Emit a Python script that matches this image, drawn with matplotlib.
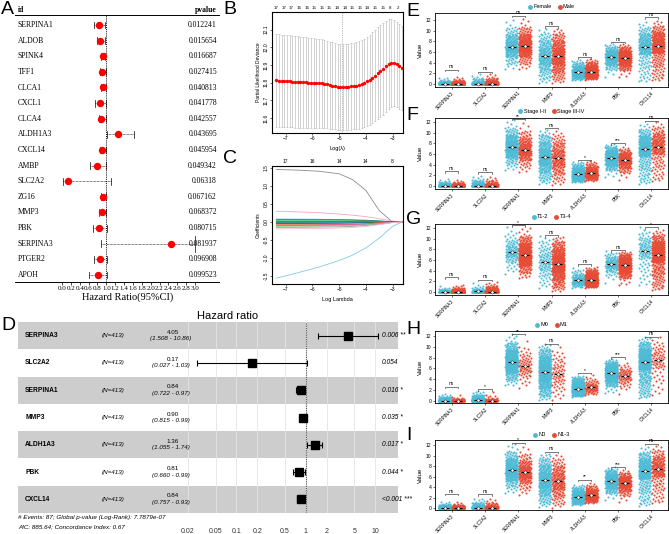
import numpy as np
import matplotlib
matplotlib.use("Agg")
import matplotlib.pyplot as plt
from matplotlib.lines import Line2D

plt.rcParams['font.family'] = ['Liberation Sans', 'DejaVu Sans']

# ---------------- data ----------------
# A: univariate cox forest
a_genes = ['SERPINA1', 'ALDOB', 'SPINK4', 'TFF1', 'CLCA1', 'CXCL1', 'CLCA4', 'ALDH1A3', 'CXCL14',
           'AMBP', 'SLC2A2', 'ZG16', 'MMP3', 'PBK', 'SERPINA3', 'PTGER2', 'APOH']
a_hr = [0.84, 0.86, 0.92, 0.90, 0.93, 0.86, 0.89, 1.26, 0.91, 0.80, 0.14, 0.93, 0.91, 0.84, 2.46, 0.86, 0.81]
a_lo = [0.72, 0.78, 0.87, 0.85, 0.88, 0.75, 0.83, 1.01, 0.85, 0.64, 0.02, 0.87, 0.84, 0.71, 0.88, 0.73, 0.62]
a_hi = [0.97, 0.98, 0.98, 0.99, 0.995, 0.995, 0.995, 1.62, 0.997, 0.995, 1.10, 1.0, 1.003, 1.01, 2.99, 1.01, 1.01]
a_p = ['0.012241', '0.015654', '0.016687', '0.027415', '0.040813', '0.041778', '0.042557', '0.043695',
       '0.045954', '0.049342', '0.06318', '0.067162', '0.068372', '0.080715', '0.081937', '0.096908', '0.099523']

# B: cross-validation curve
b_loglam = np.linspace(-7.35, -2.65, 48)
b_mean = [11.812, 11.811, 11.810, 11.809, 11.808, 11.807, 11.806, 11.805, 11.804, 11.803, 11.802, 11.801,
          11.800, 11.799, 11.798, 11.797, 11.796, 11.795, 11.793, 11.790, 11.786, 11.782, 11.779, 11.777,
          11.776, 11.776, 11.776, 11.777, 11.778, 11.780, 11.783, 11.787, 11.792, 11.799, 11.807, 11.817,
          11.828, 11.840, 11.853, 11.866, 11.879, 11.892, 11.903, 11.910, 11.910, 11.903, 11.893, 11.882]
b_se = [0.262, 0.262, 0.261, 0.261, 0.260, 0.260, 0.259, 0.259, 0.258, 0.257, 0.256, 0.255,
        0.254, 0.253, 0.252, 0.251, 0.250, 0.249, 0.248, 0.247, 0.246, 0.245, 0.244, 0.243,
        0.242, 0.242, 0.242, 0.243, 0.244, 0.245, 0.246, 0.247, 0.248, 0.250, 0.252, 0.254,
        0.256, 0.258, 0.259, 0.260, 0.260, 0.258, 0.255, 0.250, 0.245, 0.242, 0.240, 0.238]
b_top = ['17', '17', '17', '16', '16', '15', '15', '15', '14', '14', '15', '15', '14', '15', '15', '8', '2']
b_min = -4.9

# C: coefficient paths
c_loglam = [-7.35, -6.5, -5.75, -5.0, -4.5, -4.0, -3.5, -3.0, -2.65]
c_paths = [
    [1.46, 1.44, 1.41, 1.34, 1.18, 0.88, 0.32, 0.0, 0.0],
    [-1.56, -1.40, -1.25, -1.07, -0.92, -0.72, -0.45, -0.12, 0.0],
    [0.30, 0.28, 0.26, 0.22, 0.19, 0.15, 0.09, 0.03, 0.0],
    [0.08, 0.078, 0.075, 0.07, 0.064, 0.052, 0.032, 0.008, 0],
    [0.06, 0.059, 0.057, 0.053, 0.048, 0.039, 0.024, 0.006, 0],
    [0.04, 0.04, 0.038, 0.035, 0.032, 0.026, 0.016, 0.004, 0],
    [0.025, 0.025, 0.024, 0.022, 0.02, 0.016, 0.01, 0.002, 0],
    [0.01, 0.01, 0.01, 0.009, 0.008, 0.006, 0.004, 0.001, 0],
    [-0.01, -0.01, -0.01, -0.009, -0.008, -0.006, -0.004, -0.001, 0],
    [-0.03, -0.03, -0.028, -0.026, -0.024, -0.019, -0.012, -0.003, 0],
    [-0.045, -0.044, -0.042, -0.039, -0.035, -0.029, -0.018, -0.004, 0],
    [-0.06, -0.059, -0.057, -0.053, -0.048, -0.039, -0.024, -0.006, 0],
    [-0.08, -0.078, -0.075, -0.07, -0.064, -0.052, -0.032, -0.008, 0],
    [-0.10, -0.098, -0.094, -0.088, -0.08, -0.065, -0.04, -0.01, 0],
    [-0.12, -0.118, -0.113, -0.105, -0.096, -0.078, -0.048, -0.012, 0],
    [-0.15, -0.147, -0.141, -0.132, -0.12, -0.098, -0.06, -0.015, 0],
    [-0.19, -0.186, -0.179, -0.167, -0.152, -0.124, -0.076, -0.019, 0],
]
c_colors = ['#8c8c8c', '#86c8ee', '#f2a6c4', '#28b4b4', '#2f4f4f', '#61d04f', '#28e2e5', '#cd0bbc',
            '#1f7a3a', '#2297e6', '#222222', '#f5c710', '#df536b', '#d34fd0', '#7fd67f', '#9e9e9e', '#f7b6d2']
c_top = ['17', '16', '14', '14', '8']

# D: multivariate cox forest
d_genes = ['SERPINA3', 'SLC2A2', 'SERPINA1', 'MMP3', 'ALDH1A3', 'PBK', 'CXCL14']
d_hr = [4.05, 0.17, 0.84, 0.90, 1.36, 0.81, 0.84]
d_lo = [1.508, 0.027, 0.722, 0.815, 1.055, 0.660, 0.757]
d_hi = [10.86, 1.03, 0.97, 0.99, 1.74, 0.99, 0.93]
d_p = ['0.006 **', '0.054', '0.016 *', '0.035 *', '0.017 *', '0.044 *', '<0.001 ***']
d_ticks = [0.02, 0.05, 0.1, 0.2, 0.5, 1, 2, 5, 10]

# E-I: expression by clinical group (quantiles read from the clouds)
genes = ['SERPINA3', 'SLC2A2', 'SERPINA1', 'MMP3', 'ALDH1A3', 'PBK', 'CXCL14']
probs = [0, 0.02, 0.10, 0.25, 0.50, 0.75, 0.90, 0.98, 1.0]
quant = {
    'SERPINA3': [0, 0, 0.01, 0.03, 0.08, 0.18, 0.35, 0.7, 1.3],
    'SLC2A2': [0, 0, 0.01, 0.03, 0.08, 0.22, 0.5, 1.1, 1.9],
    'SERPINA1': [2.6, 3.6, 5.0, 6.0, 7.0, 8.2, 9.3, 10.6, 12.2],
    'MMP3': [0.1, 0.8, 2.2, 3.7, 5.2, 6.8, 8.2, 9.5, 10.4],
    'ALDH1A3': [0.7, 0.9, 1.3, 1.7, 2.2, 2.8, 3.4, 4.1, 4.6],
    'PBK': [1.2, 2.6, 3.5, 4.3, 5.0, 5.8, 6.4, 7.1, 7.6],
    'CXCL14': [0.4, 1.0, 3.0, 5.6, 7.0, 8.4, 9.5, 10.7, 11.7],
}
group_names = [['Female', 'Male'], ['Stage I-II', 'Stage III-IV'], ['T1-2', 'T3-4'], ['M0', 'M1'], ['N0', 'N1-3']]
group_n = [[180, 233], [240, 165], [95, 318], [340, 70], [245, 165]]
medians = [
    [[0.08, 0.08], [0.08, 0.08], [7.0, 7.1], [5.2, 5.2], [2.2, 2.3], [5.0, 4.9], [7.0, 7.2]],
    [[0.08, 0.08], [0.08, 0.08], [7.3, 6.8], [5.4, 5.2], [2.2, 2.4], [5.3, 4.8], [7.0, 7.4]],
    [[0.08, 0.08], [0.10, 0.08], [7.5, 6.9], [5.6, 5.2], [2.2, 2.3], [5.2, 5.0], [7.7, 7.0]],
    [[0.08, 0.08], [0.10, 0.05], [7.2, 6.4], [5.3, 5.0], [2.3, 2.5], [5.1, 4.6], [7.2, 7.5]],
    [[0.08, 0.08], [0.08, 0.08], [7.2, 6.8], [5.3, 5.1], [2.1, 2.4], [5.2, 4.7], [7.0, 7.4]],
]
bracket_h = [
    [2.7, 2.3, 12.8, 10.8, 5.0, 7.9, 12.5],
    [2.75, 2.55, 12.6, 10.9, 4.9, 8.0, 12.25],
    [2.75, 2.3, 12.5, 10.6, 5.25, 7.8, 12.1],
    [2.65, 2.15, 12.4, 10.6, 5.2, 8.1, 11.9],
    [2.7, 2.6, 12.5, 10.8, 5.4, 7.85, 12.3],
]
sig = [
    ['ns', 'ns', 'ns', 'ns', 'ns', 'ns', 'ns'],
    ['ns', 'ns', '**', 'ns', '*', '***', 'ns'],
    ['ns', 'ns', '*', 'ns', 'ns', 'ns', '*'],
    ['ns', '*', '**', 'ns', '*', '***', 'ns'],
    ['ns', 'ns', '*', 'ns', '**', '***', 'ns'],
]

# ---------------- figure ----------------
W, H = 669, 534
fig = plt.figure(figsize=(W / 100, H / 100), dpi=100)


def rect(x0, y0, x1, y1):
    return [x0 / W, 1 - y1 / H, (x1 - x0) / W, (y1 - y0) / H]


def txt(x, y, s, **kw):
    kw.setdefault('va', 'center')
    fig.text(x / W, 1 - y / H, s, **kw)


def fline(x0, x1, y, **kw):
    fig.add_artist(Line2D([x0 / W, x1 / W], [1 - y / H, 1 - y / H], **kw))


serif = 'Liberation Serif'

# ---- A ----
axA = fig.add_axes(rect(62, 15, 195, 282))
axA.set_xlim(0, 3)
axA.set_ylim(16.45, -0.64)
for s in axA.spines.values():
    s.set_visible(False)
axA.set_yticks([])
xt = np.round(np.arange(0, 3.01, 0.2), 1)
axA.set_xticks(xt)
axA.set_xticklabels(['%.1f' % v for v in xt], family=serif, fontsize=5)
axA.tick_params(axis='x', length=2, width=0.5, pad=1)
axA.axvline(1, color='k', ls=(0, (1, 1.2)), lw=0.7)
for i in range(len(a_genes)):
    axA.plot([a_lo[i], a_hi[i]], [i, i], color='k', ls=(0, (1, 1)), lw=0.5, clip_on=False)
    axA.plot([a_lo[i]] * 2, [i - 0.22, i + 0.22], color='k', lw=0.5, clip_on=False)
    if a_hi[i] >= 2.99:
        axA.plot([a_hi[i]] * 2, [i - 0.5, i + 0.5], color='red', lw=0.7, clip_on=False)
    else:
        axA.plot([a_hi[i]] * 2, [i - 0.22, i + 0.22], color='k', lw=0.5, clip_on=False)
    axA.plot(a_hr[i], i, 'o', color='red', ms=4.3, clip_on=False, zorder=3)
    yy = 25 + 15.625 * i
    txt(18, yy, a_genes[i], family=serif, fontsize=5.5)
    txt(217, yy, a_p[i], family=serif, fontsize=5.5, ha='right')
txt(18, 10, 'id', family=serif, fontsize=5.5, fontweight='bold')
txt(217, 10, 'pvalue', family=serif, fontsize=5.5, fontweight='bold', ha='right')
fline(15, 219, 15, color='k', lw=0.7)
fline(15, 219, 282, color='k', lw=0.7)
txt(128, 297, 'Hazard Ratio(95%CI)', family=serif, fontsize=7.5, ha='center')

# ---- B ----
xl = (-7.513, -2.607)
axB = fig.add_axes(rect(272, 12, 403, 133))
axB.errorbar(b_loglam, b_mean, yerr=b_se, fmt='o', color='red', ms=1.4, ecolor='#b0b0b0',
             elinewidth=0.4, capsize=0.7, capthick=0.4)
axB.axvline(b_min, color='#777777', ls=':', lw=0.5)
axB.set_xlim(*xl)
axB.set_ylim(11.515, 12.199)
axB.set_xticks([-7, -6, -5, -4, -3])
axB.set_yticks([11.6, 11.7, 11.8, 11.9, 12.0, 12.1])
axB.set_yticklabels(['11.6', '11.7', '11.8', '11.9', '12.0', '12.1'], rotation=90, va='center')
axB.tick_params(labelsize=3.5, length=1.5, width=0.4, pad=1)
axB.set_xlabel('Log(λ)', fontsize=4, labelpad=3)
axB.set_ylabel('Partial Likelihood Deviance', fontsize=3.5, labelpad=2)
for s in axB.spines.values():
    s.set_linewidth(0.5)
axB2 = axB.twiny()
axB2.set_xlim(*xl)
axB2.set_xticks(np.linspace(-7.35, -2.8, len(b_top)))
axB2.set_xticklabels(b_top)
axB2.tick_params(labelsize=3.2, length=0, pad=1.5)

# ---- C ----
axC = fig.add_axes(rect(272, 166, 403, 284))
for path, col in zip(c_paths, c_colors):
    axC.plot(c_loglam, path, color=col, lw=0.6)
axC.set_xlim(*xl)
axC.set_ylim(-1.722, 1.556)
axC.set_xticks([-7, -6, -5, -4, -3])
axC.set_yticks([-1.5, -1.0, -0.5, 0.0, 0.5, 1.0, 1.5])
axC.set_yticklabels(['-1.5', '-1.0', '-0.5', '0.0', '0.5', '1.0', '1.5'], rotation=90, va='center')
axC.tick_params(labelsize=3.5, length=1.5, width=0.4, pad=1)
axC.set_xlabel('Log Lambda', fontsize=4, labelpad=3)
axC.set_ylabel('Coefficients', fontsize=3.5, labelpad=2)
for s in axC.spines.values():
    s.set_linewidth(0.5)
axC2 = axC.twiny()
axC2.set_xlim(*xl)
axC2.set_xticks([-7, -6, -5, -4, -3])
axC2.set_xticklabels(c_top)
axC2.tick_params(labelsize=3.5, length=0, pad=1.5)

# ---- D ----
axD = fig.add_axes(rect(18, 322, 398, 513))
axD.set_xscale('log')
axD.set_xlim(10 ** -4.152, 10 ** 1.331)
axD.set_ylim(6.5, -0.5)
for i in range(len(d_genes)):
    if i % 2 == 0:
        axD.axhspan(i - 0.5, i + 0.5, color='#cdcdcd', lw=0, zorder=0)
for t in d_ticks:
    axD.axvline(t, color='#e4e4e4', lw=0.6, zorder=1)
axD.axvline(1, color='#555555', ls=(0, (1, 1)), lw=0.8, zorder=2)
for i in range(len(d_genes)):
    axD.errorbar(d_hr[i], i, xerr=[[d_hr[i] - d_lo[i]], [d_hi[i] - d_hr[i]]], fmt='s', color='black',
                 ms=5.8, capsize=2, elinewidth=0.8, capthick=0.8, zorder=3)
    yc = 335.6 + 27.3 * i
    txt(25, yc, d_genes[i], fontsize=4.8, fontweight='bold')
    txt(113, yc, '(N=413)', fontsize=4.5, style='italic', ha='center')
    txt(173, yc - 3.5, '%.2f' % d_hr[i], fontsize=4.5, ha='center')
    txt(171, yc + 3, '(%.3f - %.2f)' % (d_lo[i], d_hi[i]), fontsize=4.5, style='italic', ha='center')
    txt(382, yc, d_p[i], fontsize=4.8, style='italic')
axD.set_yticks([])
axD.set_xticks(d_ticks)
axD.set_xticklabels([str(t) for t in d_ticks])
axD.xaxis.set_minor_locator(matplotlib.ticker.NullLocator())
axD.tick_params(axis='x', length=0, labelsize=5, labelcolor='#333333', pad=11)
for s in axD.spines.values():
    s.set_visible(False)
txt(228, 316, 'Hazard ratio', fontsize=8, ha='center')
txt(18, 518, '# Events: 87; Global p-value (Log-Rank): 7.7879e-07', fontsize=4.5, style='italic')
txt(18, 526.5, 'AIC: 885.64; Concordance Index: 0.67', fontsize=4.5, style='italic')

# ---- E-I ----
blue, red = '#4DBBD5', '#E64B35'
box_rects = [(435, 13, 668, 87), (435, 118, 668, 189), (435, 224, 668, 295), (435, 331, 668, 403),
             (435, 440, 668, 510)]
box_ylims = [(-0.56, 13.3), (-0.56, 12.75), (-0.56, 12.75), (-0.37, 12.92), (-0.37, 13.0)]
legend_y = [7, 111, 217, 325, 435]
phi = (np.sqrt(5) - 1) / 2

for p in range(5):
    ax = fig.add_axes(rect(*box_rects[p]))
    for k, g in enumerate(genes):
        base = np.array(quant[g])
        for j, col in enumerate([blue, red]):
            n = group_n[p][j]
            med = medians[p][k][j]
            q = np.clip(base + (med - base[4]), 0, None)
            vals = np.interp((np.arange(n) + 0.5) / n, probs, q)
            xc = k + (-0.2 if j == 0 else 0.2)
            xs = xc + ((np.arange(n) * phi) % 1 - 0.5) * 0.37
            ax.scatter(xs, vals, s=2.2, color=col, linewidths=0, zorder=2)
            ax.hlines(med, xc - 0.12, xc + 0.12, color='black', lw=0.8, zorder=3)
            ax.plot(xc, med, 'o', ms=2.2, mfc='white', mec='black', mew=0.3, zorder=4)
        h = bracket_h[p][k]
        ax.plot([k - 0.2, k - 0.2, k + 0.2, k + 0.2], [h - 0.3, h, h, h - 0.3], color='#444444', lw=0.5)
        ax.text(k, h + 0.05, sig[p][k], fontsize=3.5, ha='center', va='bottom')
    ax.set_xlim(-0.5, 6.5)
    ax.set_ylim(*box_ylims[p])
    ax.set_yticks([0, 2, 4, 6, 8, 10, 12])
    ax.set_xticks(range(7))
    ax.set_xticklabels(genes, rotation=45, ha='right', rotation_mode='anchor')
    ax.tick_params(labelsize=3.6, length=1.5, width=0.4, pad=1)
    ax.tick_params(axis='x', labelsize=3.3)
    ax.set_ylabel('Value', fontsize=4.5, labelpad=2)
    for s in ax.spines.values():
        s.set_linewidth(0.6)
    handles = [Line2D([], [], marker='o', ls='', color=blue, ms=2.5, label=group_names[p][0]),
               Line2D([], [], marker='o', ls='', color=red, ms=2.5, label=group_names[p][1])]
    fig.legend(handles=handles, loc='center', bbox_to_anchor=(551 / W, 1 - legend_y[p] / H), ncol=2,
               frameon=False, fontsize=4, handletextpad=0.1, columnspacing=1.0, handlelength=1,
               borderpad=0, borderaxespad=0)

# panel letters
for lab, x, y in [('A', 1, 9), ('B', 223, 9), ('C', 223, 158), ('D', 1, 326), ('E', 406, 11),
                  ('F', 406, 115), ('G', 406, 220), ('H', 406, 329), ('I', 406, 436)]:
    txt(x, y, lab, fontsize=14)

fig.savefig('out.png', dpi=100)
